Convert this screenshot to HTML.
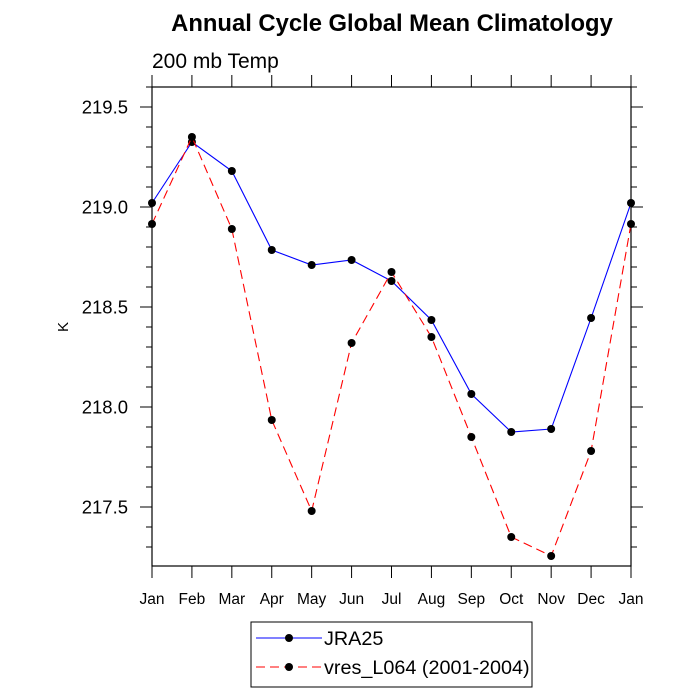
<!DOCTYPE html>
<html><head><meta charset="utf-8"><style>body{margin:0;background:#fff}svg{display:block}text{font-family:"Liberation Sans",sans-serif}</style></head>
<body>
<svg id="chart" width="700" height="700" viewBox="0 0 700 700" xmlns="http://www.w3.org/2000/svg">
<text x="392" y="31" text-anchor="middle" font-size="23.8" font-weight="bold">Annual Cycle Global Mean Climatology</text>
<text x="152" y="68" font-size="21">200 mb Temp</text>
<text transform="translate(68,327) rotate(-90)" text-anchor="middle" font-size="15">K</text>
<rect x="152" y="87" width="479" height="479" fill="none" stroke="#000" stroke-width="1.2"/>
<g id="axes"></g>
<g id="series"></g>
<g>
<rect x="251" y="622" width="281" height="65" fill="none" stroke="#000" stroke-width="1"/>
<line x1="256" y1="638" x2="322" y2="638" stroke="#00f" stroke-width="1"/>
<circle cx="289" cy="638" r="4" fill="#000"/>
<text x="324" y="645" font-size="19.8">JRA25</text>
<line x1="256" y1="667" x2="322" y2="667" stroke="#f00" stroke-width="1" stroke-dasharray="9,5"/>
<circle cx="289" cy="667" r="4" fill="#000"/>
<text x="324" y="674" font-size="19.8">vres_L064 (2001-2004)</text>
</g>
</svg>
<script>
const months=["Jan","Feb","Mar","Apr","May","Jun","Jul","Aug","Sep","Oct","Nov","Dec","Jan"];
const jra25=[219.02,219.325,219.18,218.785,218.71,218.735,218.63,218.435,218.065,217.875,217.89,218.445,219.02];
const vres=[218.915,219.35,218.89,217.935,217.48,218.32,218.675,218.35,217.85,217.35,217.255,217.78,218.915];
const yTicks=[217.5,218.0,218.5,219.0,219.5];
const yTickLabels=["217.5","218.0","218.5","219.0","219.5"];
const NS="http://www.w3.org/2000/svg";
const X0=152,X1=631,Y0=87,Y1=566,YMIN=217.205,YMAX=219.6;
const xs=i=>X0+i*(X1-X0)/(months.length-1);
const ys=v=>Y1-(v-YMIN)/(YMAX-YMIN)*(Y1-Y0);
function mk(tag,attrs,parent){const e=document.createElementNS(NS,tag);for(const k in attrs)e.setAttribute(k,attrs[k]);parent.appendChild(e);return e;}
const ax=document.getElementById('axes');
months.forEach((m,i)=>{
 const x=xs(i);
 const t=mk('line',{x1:x,y1:Y1,x2:x,y2:Y1+12,stroke:'#000'},ax);
 
 
 const t2=mk('line',{x1:x,y1:Y0,x2:x,y2:Y0-12,stroke:'#000'},ax);
 
 
 const l=mk('text',{x:x,y:604,'text-anchor':'middle','font-size':'15.5'},ax);l.textContent=m;
 
 
});
for(let v=217.3;v<=219.6001;v+=0.1){
 const y=ys(v);
 const major=yTicks.some(t=>Math.abs(t-v)<1e-6);
 const len=major?12:6;
 const a=mk('line',{x1:X0,y1:y,x2:X0-len,y2:y,stroke:'#000'},ax);
 
 
 const b=mk('line',{x1:X1,y1:y,x2:X1+len,y2:y,stroke:'#000'},ax);
 
 
}
yTicks.forEach((v,i)=>{
 const l=mk('text',{x:128,y:ys(v)+6.5,'text-anchor':'end','font-size':'18.5'},ax);l.textContent=yTickLabels[i];
 
 
});
const sg=document.getElementById('series');
function series(vals,color,dash,name){
 const p=mk('polyline',{points:vals.map((v,i)=>xs(i)+','+ys(v)).join(' '),fill:'none',stroke:color,'stroke-width':'1.1','stroke-dasharray':dash},sg);
 
 
 vals.forEach((v,i)=>{
  const c=mk('circle',{cx:xs(i),cy:ys(v),r:4,fill:'#000'},sg);
  
  
 });
}
series(jra25,'#00f','none','jra25');
series(vres,'#f00','9,5','vres');
</script>
</body></html>
